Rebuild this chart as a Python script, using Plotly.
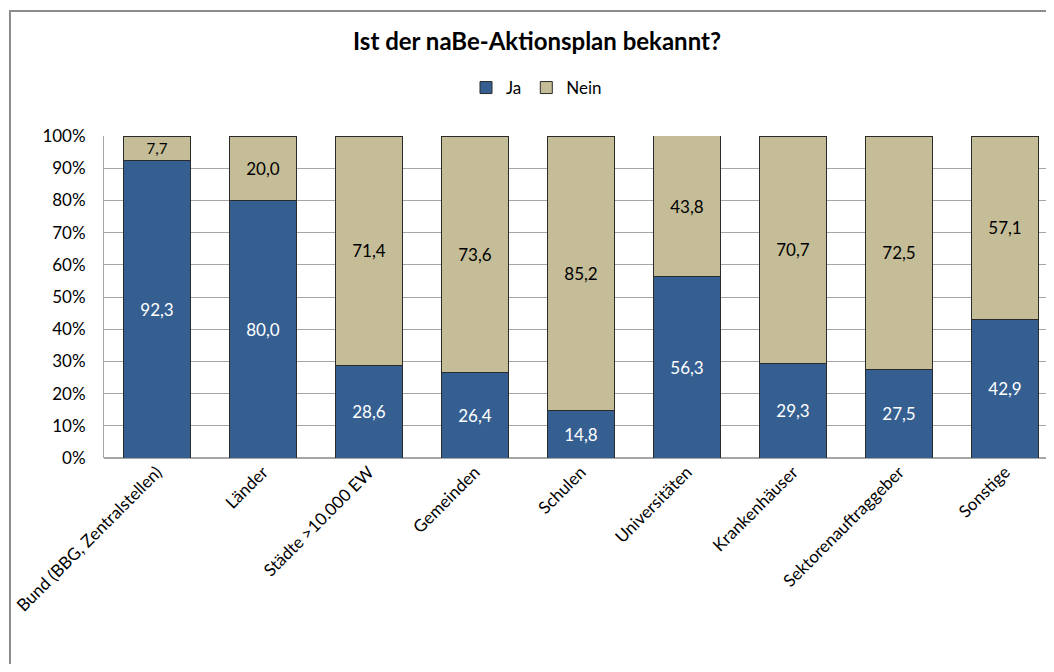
import plotly.graph_objects as go

categories = ["Bund (BBG, Zentralstellen)", "Länder", "Städte >10.000 EW", "Gemeinden",
              "Schulen", "Universitäten", "Krankenhäuser", "Sektorenauftraggeber", "Sonstige"]
ja = [92.3, 80.0, 28.6, 26.4, 14.8, 56.3, 29.3, 27.5, 42.9]
nein = [7.7, 20.0, 71.4, 73.6, 85.2, 43.8, 70.7, 72.5, 57.1]
y_ticks = [0, 10, 20, 30, 40, 50, 60, 70, 80, 90, 100]
y_ticklabels = [f"{v}%" for v in y_ticks]

FONT = "Lato"
BLUE = "#365F91"
TAN = "#C4BD97"
OFF = 8  # browser default body margin

fig = go.Figure()
fig.add_trace(go.Bar(
    x=categories, y=ja, name="Ja",
    marker=dict(color=BLUE, line=dict(color="#2b2b2b", width=1)),
    texttemplate="%{y:.1f}", textposition="inside", insidetextanchor="middle",
    textfont=dict(color="white", size=17, family=FONT),
))
fig.add_trace(go.Bar(
    x=categories, y=nein, name="Nein",
    marker=dict(color=TAN, line=dict(color="#2b2b2b", width=1)),
    texttemplate="%{y:.1f}", textposition="inside", insidetextanchor="middle",
    textfont=dict(color="black", size=17, family=FONT),
))

W, H = 1054 - OFF, 672 - 2 * OFF
ml, mt = 104 - OFF, 136 - OFF
mr = 0
mb = H - (458 - OFF)
pw, ph = W - ml - mr, H - mt - mb
plot_right_screen = OFF + W
cut = (1058 - plot_right_screen) / 106

def px_x(x):
    return (x - OFF - ml) / pw

def px_y(y):
    return 1 - (y - OFF - mt) / ph

fig.update_layout(
    width=W, height=H,
    margin=dict(l=ml, r=mr, t=mt, b=mb, autoexpand=False),
    barmode="stack", bargap=0.36,
    separators=",.",
    paper_bgcolor="white", plot_bgcolor="white",
    font=dict(family=FONT, size=17, color="black"),
    title=dict(text="<b>Ist der naBe-Aktionsplan bekannt?</b>", xref="container",
               x=(537 - OFF) / W, xanchor="center",
               y=1 - (42 - OFF) / H, yanchor="middle", font=dict(size=24, family=FONT)),
    legend=dict(orientation="h", x=px_x(466), xanchor="left", y=px_y(88), yanchor="middle",
                font=dict(size=17, family=FONT), itemwidth=30, traceorder="normal"),
    showlegend=True,
)
fig.update_xaxes(
    type="category", range=[-0.5, 8.5 - cut], tickangle=-45,
    showline=False, showgrid=False, ticks="", tickfont=dict(size=17, family=FONT),
)
fig.update_yaxes(
    range=[0, 100], tickvals=y_ticks, ticktext=y_ticklabels,
    showgrid=True, gridcolor="#A6A6A6", gridwidth=1,
    showline=True, linecolor="#A6A6A6", linewidth=1,
    zeroline=True, zerolinecolor="#A6A6A6", ticks="", ticklabelstandoff=14,
    tickfont=dict(size=17, family=FONT),
)
fig.add_shape(type="rect", xref="paper", yref="paper",
              x0=px_x(10), y0=px_y(700), x1=px_x(1100), y1=px_y(11),
              line=dict(color="#8C8C8C", width=2), fillcolor="rgba(0,0,0,0)", layer="above")

fig.write_html("out.html")
